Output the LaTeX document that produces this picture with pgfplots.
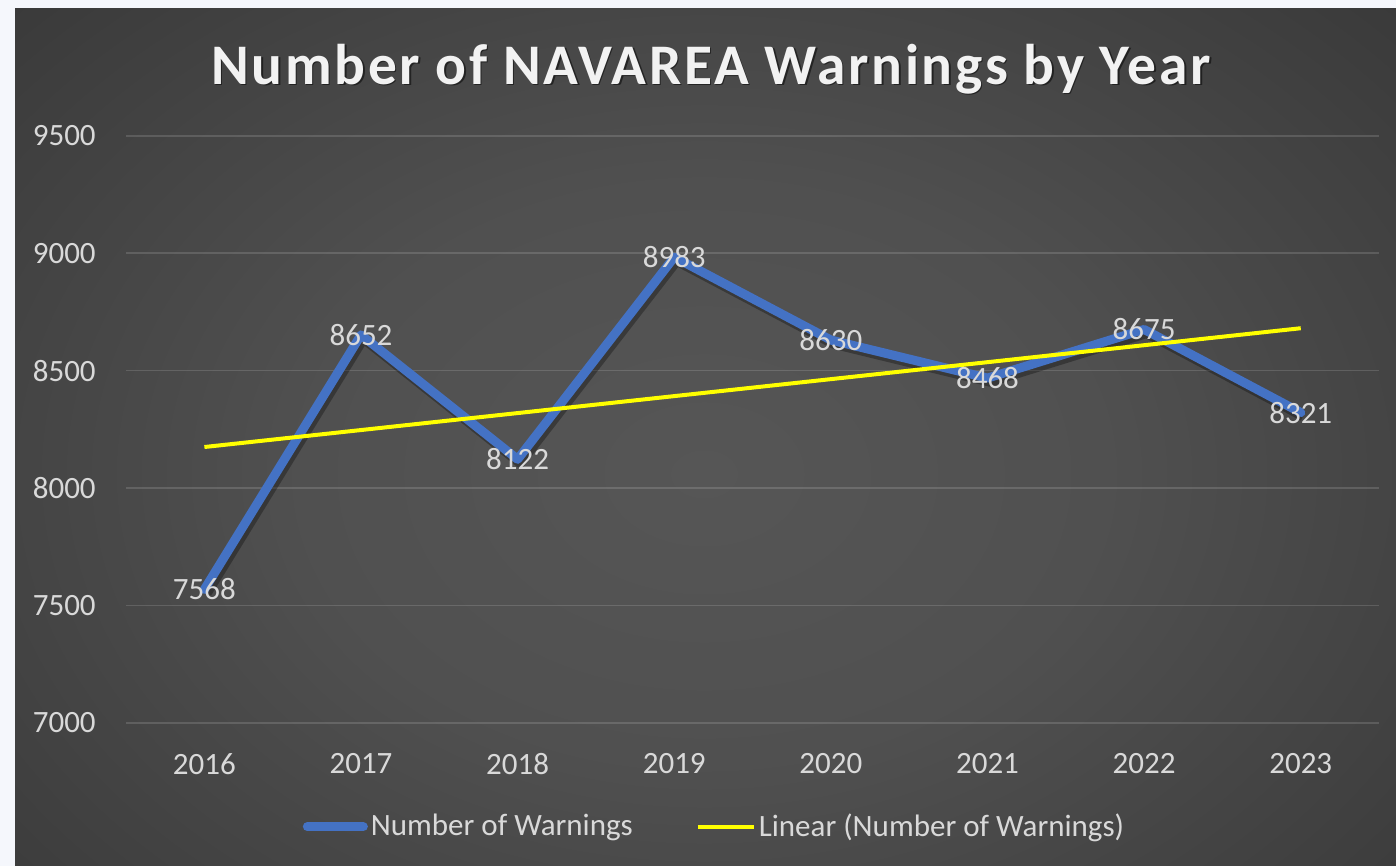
\documentclass[border=0pt]{standalone}
\usepackage{pgfplots}
\pgfplotsset{compat=1.18}
\usepackage{fontspec}
\setmainfont{Carlito}
\newfontfamily\titlefont[LetterSpace=4.7]{Carlito}
\definecolor{pagebg}{RGB}{245,247,252}
\definecolor{lblue}{RGB}{68,114,196}
\definecolor{txt}{RGB}{217,217,217}
\definecolor{ttl}{RGB}{242,242,242}
\definecolor{trend}{RGB}{255,255,0}
\definecolor{bgA}{RGB}{86,86,86}
\definecolor{bgB}{RGB}{80,80,80}
\definecolor{bgC}{RGB}{60,60,60}
\definecolor{bgD}{RGB}{44,44,44}
\definecolor{bgE}{RGB}{40,40,40}
\definecolor{bgF}{RGB}{38,38,38}
\pgfdeclareradialshading{chartbg}{\pgfpoint{0bp}{0bp}}{%
  color(0bp)=(bgA); color(10bp)=(bgB); color(22.5bp)=(bgC);
  color(32.5bp)=(bgD); color(37.5bp)=(bgE); color(50bp)=(bgF); color(100bp)=(bgF)}
\begin{document}
\begin{tikzpicture}[x=1pt,y=1pt]
\useasboundingbox (0,0) rectangle (698,433);
\fill[pagebg] (0,0) rectangle (698,433);
\begin{scope}
\clip (7.5,0) rectangle (698,428.5);
\shade[shading=chartbg] (352,196) ellipse [x radius=500, y radius=360];
\end{scope}
\begin{axis}[
  at={(80.5,61)}, anchor=south west,
  scale only axis, width=626.5pt, height=293.5pt,
  xmin=-0.5, xmax=7.5, ymin=7000, ymax=9500,
  xtick={0,...,7},
  xticklabels={2016,2017,2018,2019,2020,2021,2022,2023},
  ytick={7000,7500,8000,8500,9000,9500},
  axis line style={draw=none},
  major tick length=0pt,
  ymajorgrids, xmajorgrids=false,
  grid style={white, opacity=0.14, line width=0.8pt},
  /pgf/number format/1000 sep={},
  /pgf/number format/assume math mode=true,
  tick label style={font=\fontsize{15.5}{18}\selectfont, text=txt, inner sep=0pt},
  xticklabel style={anchor=center, yshift=-20.5pt},
  yticklabel style={anchor=east, xshift=-15pt},
  legend style={at={(0.470,-0.177)}, anchor=center, legend columns=2,
    draw=none, fill=none, font=\fontsize{15.5}{18}\selectfont, text=txt,
    /tikz/every even column/.append style={column sep=30pt},
    nodes={inner sep=1.5pt}},
  legend image code/.code={\draw[#1] (0pt,0pt) -- (28pt,0pt);},
  clip=false,
]
\addplot[black, opacity=0.3, line width=5pt, line join=round, xshift=1.2pt, yshift=-1.8pt, forget plot]
  coordinates {(0,7568) (1,8652) (2,8122) (3,8983) (4,8630) (5,8468) (6,8675) (7,8321)};
\addplot[lblue, line width=4.5pt, line join=round, line cap=round,
  nodes near coords, point meta=y,
  every node near coord/.append style={anchor=center, text=txt, font=\fontsize{15.5}{18}\selectfont, inner sep=0pt}]
  coordinates {(0,7568) (1,8652) (2,8122) (3,8983) (4,8630) (5,8468) (6,8675) (7,8321)};
\addlegendentry{Number of Warnings}
\addplot[trend, line width=2pt]
  coordinates {(0,8174.4) (7,8680.3)};
\addlegendentry{Linear (Number of Warnings)}
\end{axis}
\node[font=\titlefont\bfseries\fontsize{28.7}{34}\selectfont, text=black, opacity=0.5] at (356.3,397.7) {Number of NAVAREA Warnings by Year};
\node[font=\titlefont\bfseries\fontsize{28.7}{34}\selectfont, text=ttl] at (355.5,398.5) {Number of NAVAREA Warnings by Year};
\end{tikzpicture}
\end{document}
